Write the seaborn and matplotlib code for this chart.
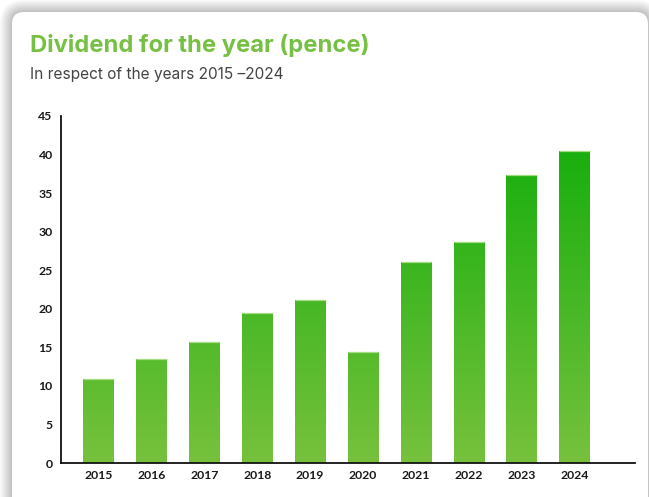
import numpy as np
import matplotlib
matplotlib.use("Agg")
import matplotlib.pyplot as plt
import seaborn as sns
from matplotlib.patches import FancyBboxPatch
from matplotlib.colors import LinearSegmentedColormap, Normalize
from matplotlib.transforms import IdentityTransform

# ---- data ----
years = ["2015", "2016", "2017", "2018", "2019", "2020", "2021", "2022", "2023", "2024"]
dividend = [10.9, 13.5, 15.7, 19.4, 21.2, 14.4, 26.1, 28.6, 37.4, 40.4]
y_ticks = [0, 5, 10, 15, 20, 25, 30, 35, 40, 45]
title = "Dividend for the year (pence)"
subtitle = "In respect of the years 2015 \u20132024"

W, H = 649, 497
sns.set_theme(style="white")
plt.rcParams["font.family"] = ["Lato", "DejaVu Sans"]

fig = plt.figure(figsize=(W / 100, H / 100), dpi=100)
fig.patch.set_facecolor("white")

# ---- card with soft shadow (pixel coords) ----
cx0, cy_top, cx1 = 12, 12, 648
for i in range(12, 0, -1):
    sh = FancyBboxPatch((cx0 - i, -50), (cx1 - cx0) + 2 * i, (H - cy_top) + 50 + i,
                        boxstyle="round,pad=0,rounding_size=%d" % (12 + i),
                        transform=IdentityTransform(), facecolor="#000000",
                        edgecolor="none", alpha=0.018, zorder=1)
    fig.add_artist(sh)
card = FancyBboxPatch((cx0, -50), cx1 - cx0, (H - cy_top) + 50,
                      boxstyle="round,pad=0,rounding_size=12",
                      transform=IdentityTransform(), facecolor="white",
                      edgecolor="none", zorder=1.5)
fig.add_artist(card)

# ---- titles ----
fig.text(30 / W, 1 - 52 / H, title, fontsize=17.1, fontweight="bold",
         color="#76c043", family=["Inter", "DejaVu Sans"], va="baseline", ha="left", zorder=3)
fig.text(30 / W, 1 - 79 / H, subtitle, fontsize=11.1, color="#444444",
         family=["Inter", "DejaVu Sans"], va="baseline", ha="left", zorder=3)

# ---- axes ----
ax = fig.add_axes([61 / W, 1 - 463 / H, (635 - 61) / W, (463 - 116) / H])
ax.set_zorder(2)
ax.set_facecolor("none")

sns.barplot(x=years, y=dividend, ax=ax, width=0.58, color="#5cbb31",
            saturation=1, edgecolor="none")

cmap = LinearSegmentedColormap.from_list("g", ["#77c13d", "#19af0e"])
norm = Normalize(vmin=0, vmax=max(dividend))
for bar in list(ax.patches):
    x0 = bar.get_x()
    w = bar.get_width()
    h = bar.get_height()
    grad = np.linspace(0, h, 200).reshape(-1, 1)
    im = ax.imshow(grad, extent=[x0, x0 + w, 0, h], origin="lower", aspect="auto",
                   cmap=cmap, norm=norm, zorder=2, interpolation="bilinear")
    im.set_clip_path(bar)
    bar.set_facecolor("none")
    ax.plot([x0, x0 + w], [h, h], color="#a6dc86", lw=0.9, zorder=3,
            solid_capstyle="butt")

ax.set_xlim(-0.71, 10.14)
ax.set_ylim(0, 45)
ax.set_aspect("auto")
ax.set_yticks(y_ticks)
ax.set_yticklabels([str(t) for t in y_ticks])
ax.set_xlabel("")
ax.set_ylabel("")
ax.tick_params(axis="both", length=0, labelsize=8.8, labelcolor="#1a1a1a")
ax.tick_params(axis="y", pad=6)
ax.tick_params(axis="x", pad=5)
for lab in ax.get_xticklabels() + ax.get_yticklabels():
    lab.set_fontweight("bold")
for s in ["top", "right"]:
    ax.spines[s].set_visible(False)
for s in ["left", "bottom"]:
    ax.spines[s].set_visible(True)
    ax.spines[s].set_color("#111111")
    ax.spines[s].set_linewidth(1.3)

fig.savefig("out.png", dpi=100, facecolor=fig.get_facecolor())
